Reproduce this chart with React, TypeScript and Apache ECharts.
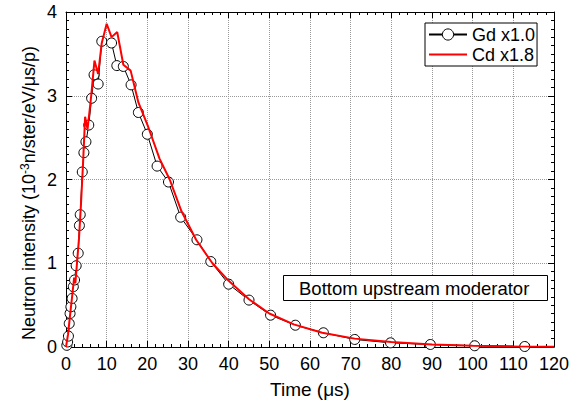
import React, { useEffect, useRef } from 'react';
import * as echarts from 'echarts';

const gdTime = [0.2, 0.4, 0.6, 0.8, 1.0, 1.2, 1.5, 1.8, 2.1, 2.5, 3.0, 3.3, 3.5, 4.0, 4.4, 4.9, 5.6, 6.3, 6.9, 7.9, 8.8, 11.2, 12.5, 14.1, 16.0, 17.8, 20.0, 22.4, 25.2, 28.2, 32.2, 35.6, 40.0, 45.0, 50.3, 56.4, 63.3, 71.0, 79.8, 89.6, 100.5, 112.8];
const gdValue = [0.02, 0.06, 0.13, 0.28, 0.4, 0.48, 0.58, 0.72, 0.8, 0.97, 1.12, 1.45, 1.58, 2.09, 2.32, 2.45, 2.65, 2.97, 3.25, 3.14, 3.65, 3.63, 3.36, 3.35, 3.13, 2.8, 2.54, 2.16, 1.97, 1.55, 1.28, 1.02, 0.75, 0.56, 0.38, 0.26, 0.17, 0.09, 0.05, 0.03, 0.015, 0.006];

const cdTime = [0, 0.5, 1.0, 1.5, 2.0, 2.3, 2.7, 3.2, 3.7, 4.2, 4.7, 5.3, 6.2, 7.0, 7.9, 8.8, 10.0, 11.2, 12.6, 14.1, 15.9, 17.8, 20.2, 23.0, 25.5, 28.4, 32.0, 36.0, 40.0, 45.0, 50.0, 56.0, 63.0, 71.0, 80.0, 90.0, 100.0, 110.0, 120.0];
const cdValue = [0, 0.15, 0.38, 0.6, 0.83, 0.76, 1.0, 1.3, 1.72, 2.2, 2.75, 2.6, 3.0, 3.42, 3.26, 3.63, 3.86, 3.7, 3.76, 3.37, 3.3, 2.92, 2.63, 2.25, 2.0, 1.62, 1.28, 1.0, 0.79, 0.57, 0.4, 0.27, 0.17, 0.1, 0.06, 0.03, 0.015, 0.008, 0.004];

const seriesNames = ['Gd x1.0', 'Cd x1.8'];
const annotation = 'Bottom upstream moderator';
const xAxisTitle = 'Time (μs)';
const yAxisTitle = '{a|Neutron intensity (10}{s|-3}{a|n/ster/eV/μs/p)}';

const FONT = '"Liberation Sans", Arial, Helvetica, sans-serif';

export default function App() {
  const ref = useRef<HTMLDivElement>(null);
  useEffect(() => {
    if (!ref.current) return;
    const chart = echarts.init(ref.current, undefined, { renderer: 'svg' });
    const axisCommon = {
      type: 'value' as const,
      axisLine: { show: true, onZero: false, lineStyle: { color: '#000', width: 1 } },
      axisTick: { show: true, inside: true, length: 6, lineStyle: { color: '#000', width: 1 } },
    };
    chart.setOption({
      animation: false,
      backgroundColor: '#fff',
      textStyle: { fontFamily: FONT },
      grid: { left: 66, right: 32, top: 12, bottom: 52, show: false },
      legend: {
        data: [
          { name: seriesNames[0], itemStyle: { borderWidth: 1 } },
          { name: seriesNames[1], icon: 'path://M0,0 L38,0 L38,2 L0,2 Z', itemStyle: { color: '#ff0000', borderWidth: 0 } },
        ],
        orient: 'vertical',
        left: 425,
        top: 23,
        backgroundColor: '#fff',
        borderColor: '#000',
        borderWidth: 1,
        borderRadius: 0,
        padding: [2, 2, 2, 3],
        itemGap: 1,
        itemWidth: 38,
        itemHeight: 14,
        textStyle: { color: '#000', fontSize: 18, lineHeight: 19, fontFamily: FONT },
      },
      xAxis: [
        {
          ...axisCommon,
          min: 0, max: 120, interval: 10,
          position: 'bottom',
          minorTick: { show: true, splitNumber: 5, length: 3, lineStyle: { color: '#000' } },
          axisLabel: { color: '#000', fontSize: 18, fontFamily: FONT, margin: 8 },
          splitLine: { show: true, lineStyle: { color: '#999', type: 'dotted', width: 1 } },
          name: xAxisTitle,
          nameLocation: 'middle',
          nameGap: 33,
          nameTextStyle: { color: '#000', fontSize: 19, fontFamily: FONT },
        },
        {
          ...axisCommon,
          min: 0, max: 120, interval: 10,
          position: 'top',
          minorTick: { show: true, splitNumber: 5, length: 3, lineStyle: { color: '#000' } },
          axisLabel: { show: false },
          splitLine: { show: false },
        },
      ],
      yAxis: [
        {
          ...axisCommon,
          min: 0, max: 4, interval: 1,
          position: 'left',
          minorTick: { show: true, splitNumber: 10, length: 3, lineStyle: { color: '#000' } },
          axisLabel: { color: '#000', fontSize: 18, fontFamily: FONT, margin: 9 },
          splitLine: { show: true, lineStyle: { color: '#999', type: 'dotted', width: 1 } },
        },
        {
          ...axisCommon,
          min: 0, max: 4, interval: 1,
          position: 'right',
          minorTick: { show: true, splitNumber: 10, length: 3, lineStyle: { color: '#000' } },
          axisLabel: { show: false },
          splitLine: { show: false },
        },
      ],
      series: [
        {
          name: seriesNames[0],
          type: 'line',
          xAxisIndex: 0,
          yAxisIndex: 0,
          data: gdTime.map((t, i) => [t, gdValue[i]]),
          symbol: 'circle',
          symbolSize: 10,
          showSymbol: true,
          itemStyle: { color: '#fff', borderColor: '#000', borderWidth: 1 },
          lineStyle: { color: '#000', width: 1 },
          z: 2,
        },
        {
          name: seriesNames[1],
          type: 'line',
          xAxisIndex: 0,
          yAxisIndex: 0,
          data: cdTime.map((t, i) => [t, cdValue[i]]),
          symbol: 'none',
          showSymbol: false,
          itemStyle: { color: '#ff0000' },
          lineStyle: { color: '#ff0000', width: 2 },
          z: 3,
        },
      ],
      graphic: [
        {
          type: 'text',
          x: 29,
          y: 193,
          rotation: Math.PI / 2,
          style: {
            text: yAxisTitle,
            align: 'center',
            verticalAlign: 'middle',
            fill: '#000',
            fontSize: 18,
            fontFamily: FONT,
            rich: {
              a: { fontSize: 18, fontFamily: FONT, fill: '#000', lineHeight: 20 },
              s: { fontSize: 12, fontFamily: FONT, fill: '#000', verticalAlign: 'top', lineHeight: 20, padding: [0, 0, 8, 0] },
            },
          },
          z: 11,
        },
        {
          type: 'rect',
          left: 283,
          top: 275,
          shape: { width: 264, height: 25 },
          style: { fill: '#fff', stroke: '#000', lineWidth: 1 },
          z: 10,
        },
        {
          type: 'text',
          x: 299,
          y: 288,
          style: { text: annotation, fill: '#000', fontSize: 18.5, fontFamily: FONT, verticalAlign: 'middle' },
          z: 11,
        },
      ],
    });
    return () => chart.dispose();
  }, []);
  return <div ref={ref} style={{ position: 'fixed', left: 0, top: 0, width: 586, height: 404 }} />;
}
